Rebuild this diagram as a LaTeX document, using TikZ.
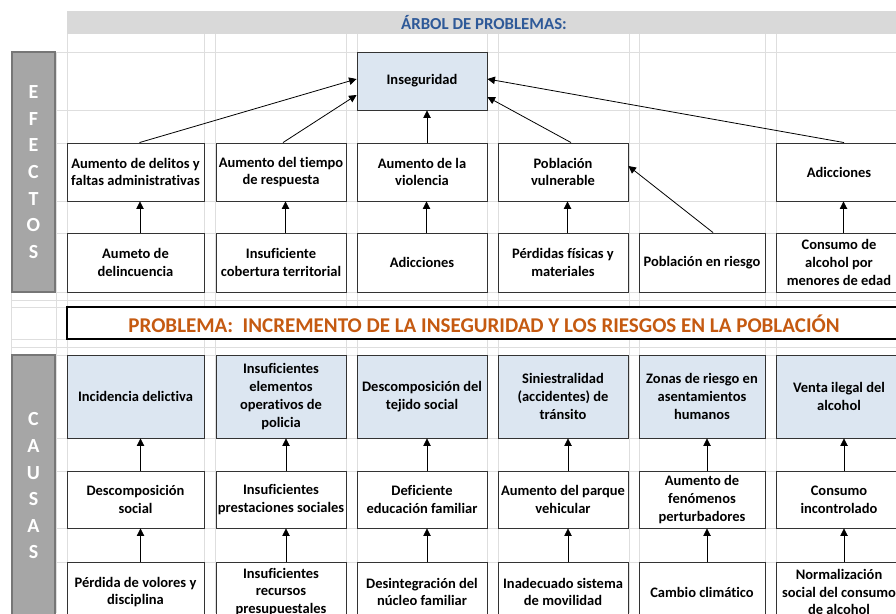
\documentclass[tikz,border=0pt]{standalone}
\usepackage{fontspec}
\setmainfont{Carlito}[Ligatures=NoCommon]
\usetikzlibrary{arrows.meta}
\definecolor{gridc}{RGB}{222,222,222}
\definecolor{hdr}{RGB}{217,217,217}
\definecolor{ttl}{RGB}{46,89,152}
\definecolor{lblue}{RGB}{220,230,241}
\definecolor{prob}{RGB}{197,90,17}
\definecolor{side}{RGB}{166,166,166}
\definecolor{sideb}{RGB}{118,118,118}
\begin{document}
\begin{tikzpicture}[x=1pt,y=-1pt,
  cell/.style={draw=black!80,line width=0.9pt,fill=white,inner sep=0pt,align=center,
    font=\bfseries\fontsize{14.5}{17.8}\selectfont},
  bluecell/.style={cell,fill=lblue},
  sidebox/.style={draw=sideb,fill=side,line width=1.8pt},
  sidetxt/.style={text=white,align=center,font=\bfseries\fontsize{20}{26.6}\selectfont},
  arr/.style={line width=0.8pt,-{Triangle[length=7.5pt,width=7.5pt]}},
  gl/.style={draw=gridc,line width=1pt}]
\useasboundingbox (0,0) rectangle (896,613);
\clip (0,0) rectangle (896,613);
% grid
\foreach \gx in {67,204,215,346,357,487,498,629,639,765,776}
  \draw[gl] (\gx,34) -- (\gx,613);
\foreach \gx in {11,56}
  \draw[gl] (\gx,52) -- (\gx,613);
\foreach \gy in {52,110,143,201,233,292,300,307,339,347,355,438,471,528,562}
  \draw[gl] (11,\gy) -- (896,\gy);
% header
\fill[hdr] (67,11) rectangle (896,34);
\node[text=ttl,font=\bfseries\fontsize{16.8}{20}\selectfont] (title) at (484,23) {ÁRBOL DE PROBLEMAS:};
% side labels
\draw[sidebox] (12,52) rectangle (55,292);
\node[sidetxt] (efectos) at (33.5,172) {E\\F\\E\\C\\T\\O\\S};
\draw[sidebox] (12,355) rectangle (55,630);
\node[sidetxt] (causas) at (33.5,486) {C\\A\\U\\S\\A\\S};
% top
\node[bluecell,minimum width=130,minimum height=58] (ins) at (422,81) {Inseguridad};
% effects row 1
\node[cell,minimum width=137,minimum height=58] (e1) at (135.5,172) {Aumento de delitos y\\faltas administrativas};
\node[cell,minimum width=130,minimum height=58] (e2) at (281,172) {Aumento del tiempo\\de respuesta};
\node[cell,minimum width=130,minimum height=58] (e3) at (422,172) {Aumento de la\\violencia};
\node[cell,minimum width=130,minimum height=58] (e4) at (563,172) {Población\\vulnerable};
\node[cell,minimum width=126,minimum height=58] (e6) at (839,172) {Adicciones};
% effects row 2
\node[cell,minimum width=137,minimum height=59] (f1) at (135.5,262.5) {Aumeto de\\delincuencia};
\node[cell,minimum width=130,minimum height=59] (f2) at (281,262.5) {Insuficiente\\cobertura territorial};
\node[cell,minimum width=130,minimum height=59] (f3) at (422,262.5) {Adicciones};
\node[cell,minimum width=130,minimum height=59] (f4) at (563,262.5) {Pérdidas físicas y\\materiales};
\node[cell,minimum width=126,minimum height=59] (f5) at (702,262.5) {Población en riesgo};
\node[cell,minimum width=126,minimum height=59] (f6) at (839,262.5) {Consumo de\\alcohol por\\menores de edad};
% problem band
\node[draw=black,line width=1.8pt,fill=white,minimum width=840,minimum height=32,inner sep=0pt] (band) at (487,323) {};
\node[text=prob,font=\bfseries\fontsize{21}{24}\selectfont] (ptext) at (484,323.5) {PROBLEMA:\ \ INCREMENTO DE LA INSEGURIDAD Y LOS RIESGOS EN LA POBLACIÓN};
% causes row 1
\node[bluecell,minimum width=137,minimum height=83] (c1) at (135.5,396.5) {Incidencia delictiva};
\node[bluecell,minimum width=130,minimum height=83] (c2) at (281,396.5) {Insuficientes\\elementos\\operativos de\\policia};
\node[bluecell,minimum width=130,minimum height=83] (c3) at (422,396.5) {Descomposición del\\tejido social};
\node[bluecell,minimum width=130,minimum height=83] (c4) at (563,396.5) {Siniestralidad\\(accidentes) de\\tránsito};
\node[bluecell,minimum width=126,minimum height=83] (c5) at (702,396.5) {Zonas de riesgo en\\asentamientos\\humanos};
\node[bluecell,minimum width=126,minimum height=83] (c6) at (839,396.5) {Venta ilegal del\\alcohol};
% causes row 2
\node[cell,minimum width=137,minimum height=57] (d1) at (135.5,499.5) {Descomposición\\social};
\node[cell,minimum width=130,minimum height=57] (d2) at (281,499.5) {Insuficientes\\prestaciones sociales};
\node[cell,minimum width=130,minimum height=57] (d3) at (422,499.5) {Deficiente\\educación familiar};
\node[cell,minimum width=130,minimum height=57] (d4) at (563,499.5) {Aumento del parque\\vehicular};
\node[cell,minimum width=126,minimum height=57] (d5) at (702,499.5) {Aumento de\\fenómenos\\perturbadores};
\node[cell,minimum width=126,minimum height=57] (d6) at (839,499.5) {Consumo\\incontrolado};
% causes row 3
\node[cell,minimum width=137,minimum height=60] (g1) at (135.5,592) {Pérdida de volores y\\disciplina};
\node[cell,minimum width=130,minimum height=60] (g2) at (281,592) {Insuficientes\\recursos\\presupuestales};
\node[cell,minimum width=130,minimum height=60] (g3) at (422,592) {Desintegración del\\núcleo familiar};
\node[cell,minimum width=130,minimum height=60] (g4) at (563,592) {Inadecuado sistema\\de movilidad};
\node[cell,minimum width=126,minimum height=60] (g5) at (702,592) {Cambio climático};
\node[cell,minimum width=126,minimum height=60] (g6) at (839,592) {Normalización\\social del consumo\\de alcohol};
% effect arrows
\draw[arr] ([xshift=4]e1.north) -- ([yshift=2]ins.west);
\draw[arr] ([xshift=2]e2.north) -- ([yshift=-14]ins.west);
\draw[arr] ([xshift=5]e3.north) -- ([xshift=5]ins.south);
\draw[arr] ([xshift=8]e4.north) -- ([yshift=-16]ins.east);
\draw[arr] ([xshift=5]e6.north) -- ([yshift=2]ins.east);
\draw[arr] ([xshift=11]f5.north) -- ([yshift=6]e4.east);
\foreach \a/\b in {f1/e1,f2/e2,f3/e3,f4/e4,f6/e6}
  \draw[arr] ([xshift=4.5]\a.north) -- ([xshift=4.5]\b.south);
% cause arrows
\foreach \a/\b in {d1/c1,d2/c2,d3/c3,d4/c4,d5/c5,d6/c6,g1/d1,g2/d2,g3/d3,g4/d4,g5/d5,g6/d6}
  \draw[arr] ([xshift=5]\a.north) -- ([xshift=5]\b.south);
\end{tikzpicture}
\end{document}
